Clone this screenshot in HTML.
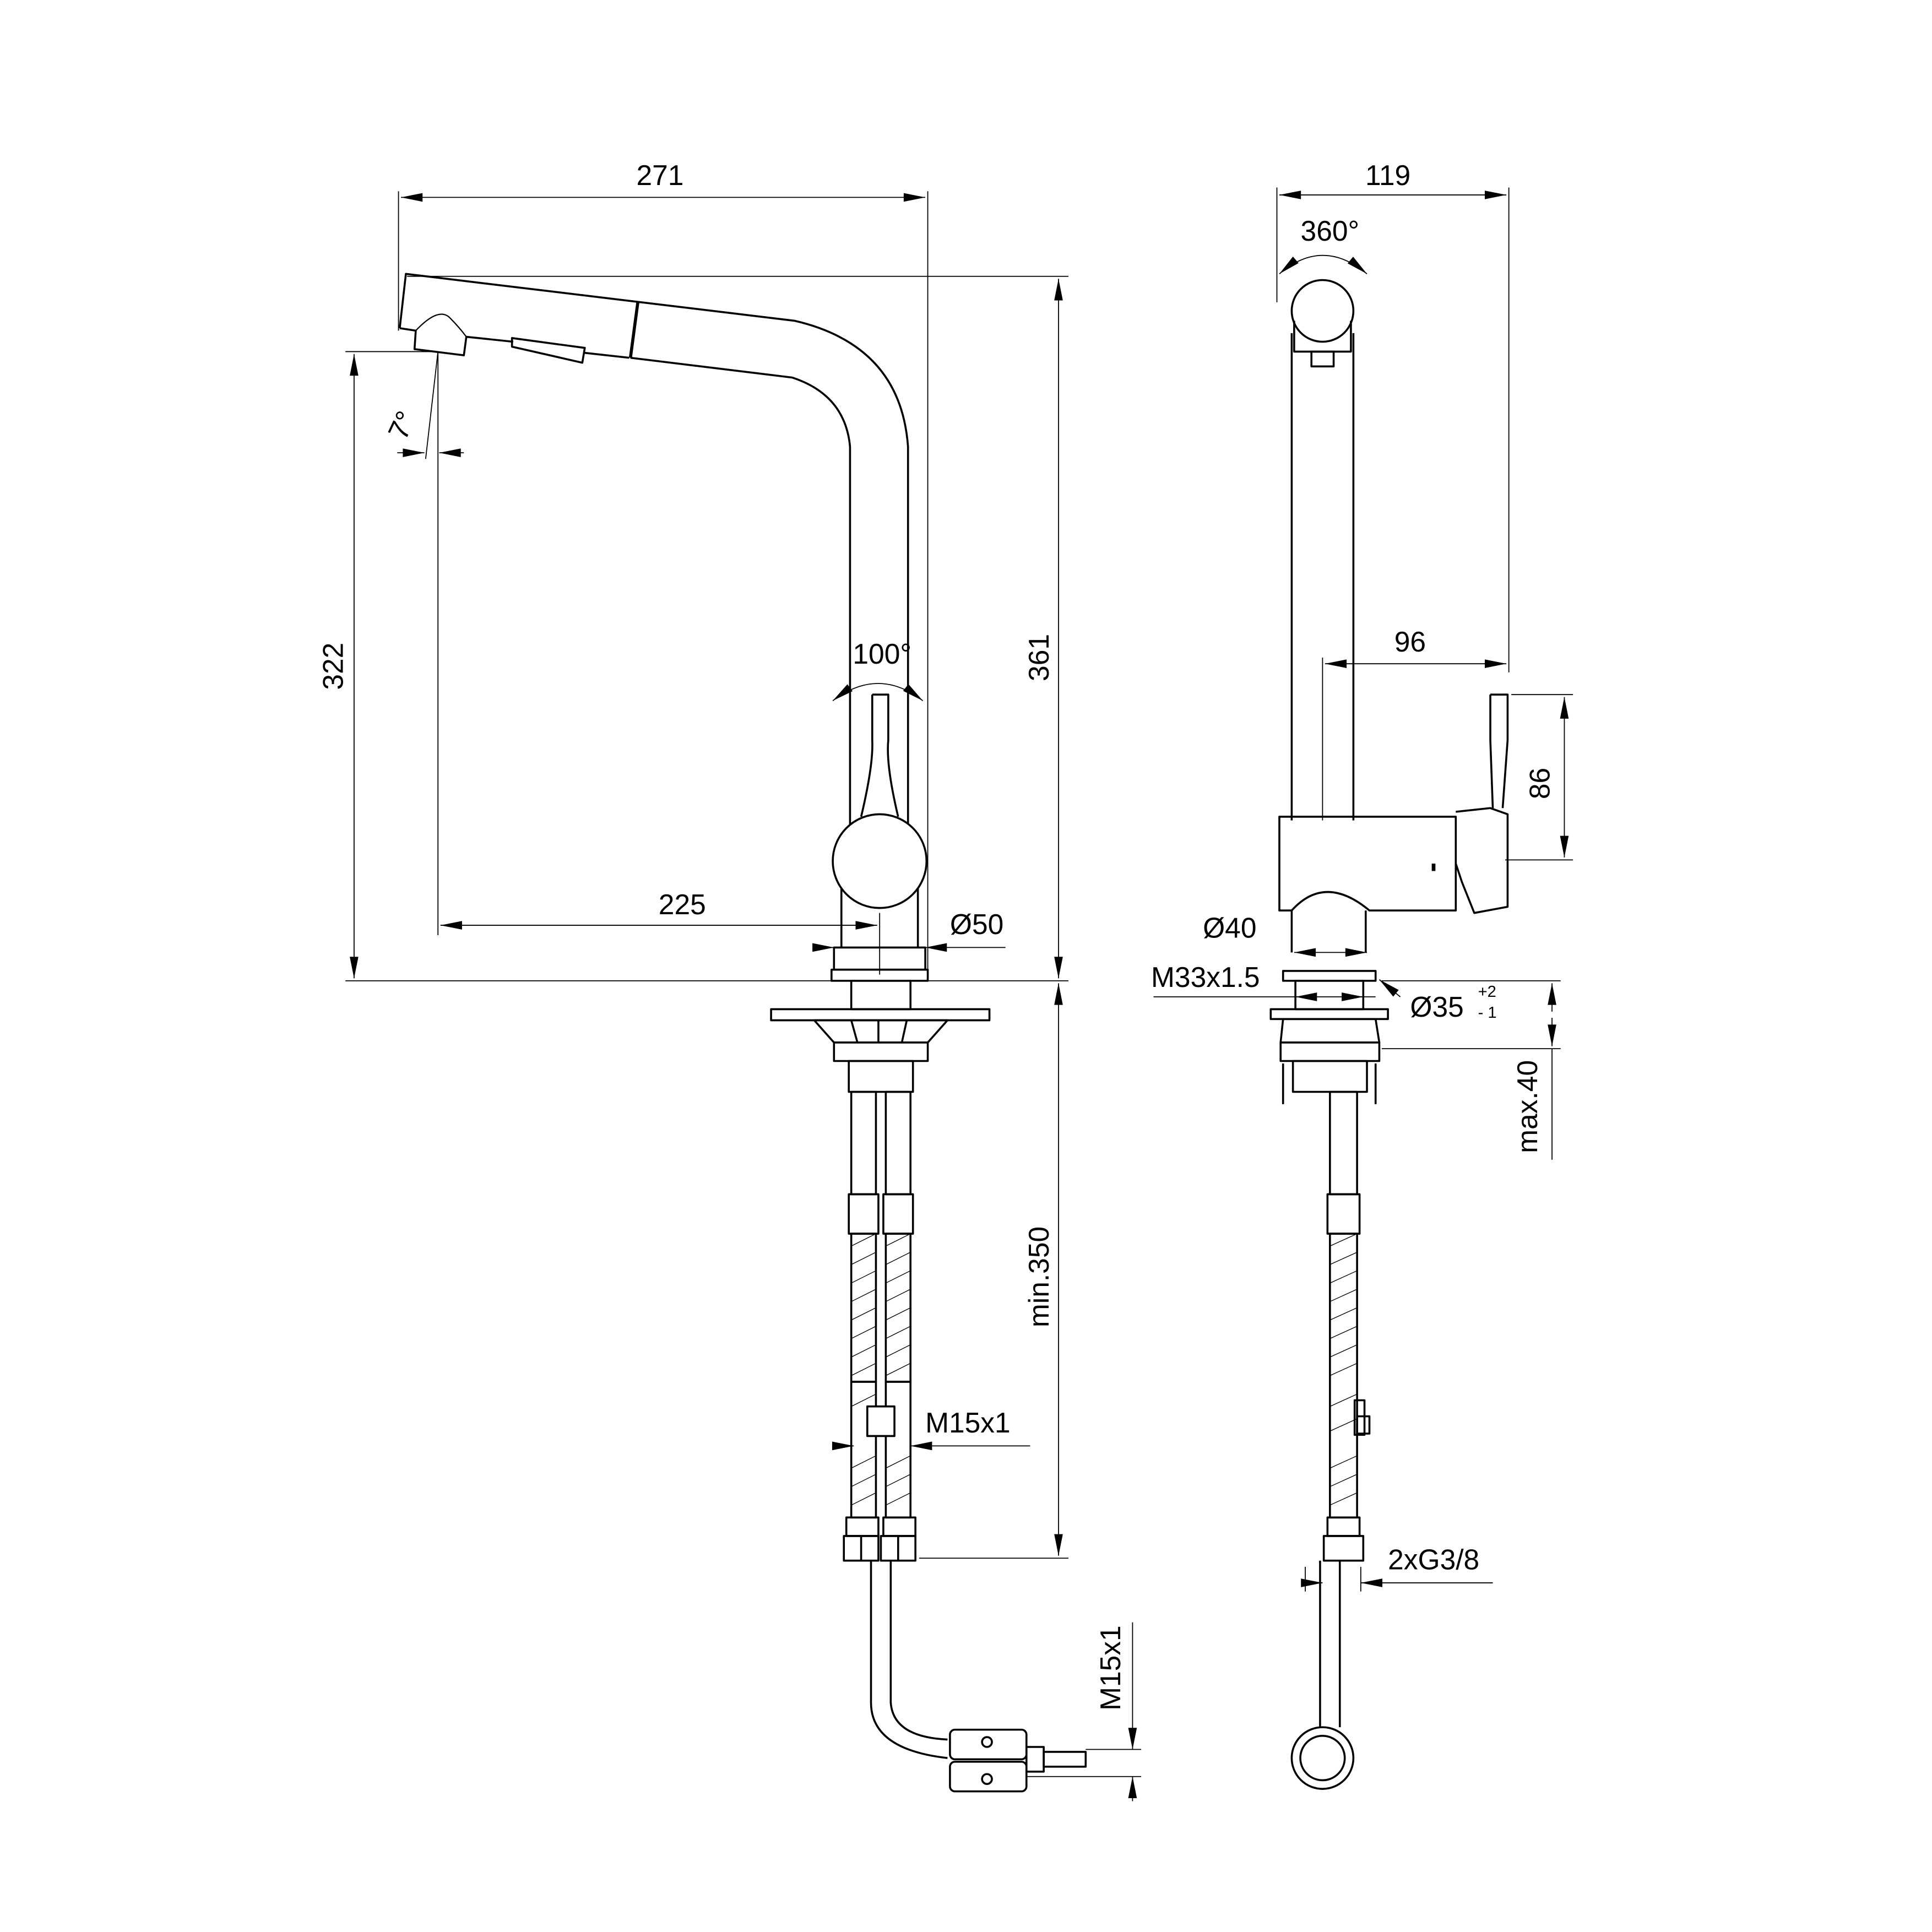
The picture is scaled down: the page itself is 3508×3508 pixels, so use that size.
<!DOCTYPE html>
<html><head><meta charset="utf-8"><style>
html,body{margin:0;padding:0;background:#fff}
svg{display:block}
text{font-family:"Liberation Sans",sans-serif;font-size:23px;fill:#000}
</style></head><body>
<svg width="3508" height="3508" viewBox="0 0 1566 1566" xmlns="http://www.w3.org/2000/svg">
<defs>
<marker id="a" viewBox="0 0 10 4" refX="10" refY="2" markerWidth="18" markerHeight="7" markerUnits="userSpaceOnUse" orient="auto-start-reverse"><path d="M0,0L10,2L0,4z" fill="#000"/></marker>
</defs>
<rect width="1566" height="1566" fill="#fff"/>
<g stroke="#000" stroke-width="0.8" fill="none">
<line x1="323" y1="155" x2="323" y2="268"/>
<line x1="752" y1="155" x2="752" y2="795"/>
<line x1="325" y1="160" x2="750" y2="160" marker-start="url(#a)" marker-end="url(#a)"/>
<line x1="330" y1="224" x2="866" y2="224"/>
<line x1="280" y1="285" x2="355" y2="285"/>
<line x1="280" y1="795" x2="866" y2="795"/>
<line x1="287" y1="287" x2="287" y2="793" marker-start="url(#a)" marker-end="url(#a)"/>
<line x1="858" y1="226" x2="858" y2="793" marker-start="url(#a)" marker-end="url(#a)"/>
<line x1="858" y1="797" x2="858" y2="1261" marker-start="url(#a)" marker-end="url(#a)"/>
<line x1="745" y1="1263" x2="866" y2="1263"/>
<line x1="355" y1="285" x2="355" y2="758"/>
<line x1="357" y1="750" x2="711" y2="750" marker-start="url(#a)" marker-end="url(#a)"/>
<line x1="713" y1="740" x2="713" y2="790"/>
<line x1="660" y1="768" x2="676" y2="768" marker-end="url(#a)"/>
<line x1="815" y1="768" x2="750" y2="768" marker-end="url(#a)"/>
<line x1="676" y1="768" x2="750" y2="768"/>
<line x1="355" y1="285" x2="345" y2="372"/>
<line x1="322" y1="367" x2="344" y2="367" marker-end="url(#a)"/>
<line x1="376" y1="367" x2="356" y2="367" marker-end="url(#a)"/>
<path d="M675,568 Q712,540 748,568" marker-start="url(#a)" marker-end="url(#a)"/>
<line x1="680" y1="1172" x2="692" y2="1172" marker-end="url(#a)"/>
<line x1="835" y1="1172" x2="738" y2="1172" marker-end="url(#a)"/>
<line x1="918" y1="1315" x2="918" y2="1418" marker-end="url(#a)"/>
<line x1="918" y1="1460" x2="918" y2="1440" marker-end="url(#a)"/>
<line x1="880" y1="1418" x2="925" y2="1418"/>
<line x1="832" y1="1440" x2="925" y2="1440"/>
<line x1="1035" y1="152" x2="1035" y2="245"/>
<line x1="1223" y1="152" x2="1223" y2="545"/>
<line x1="1037" y1="158" x2="1221" y2="158" marker-start="url(#a)" marker-end="url(#a)"/>
<path d="M1037,222 Q1072,192 1108,222" marker-start="url(#a)" marker-end="url(#a)"/>
<line x1="1072" y1="533" x2="1072" y2="665"/>
<line x1="1074" y1="538" x2="1221" y2="538" marker-start="url(#a)" marker-end="url(#a)"/>
<line x1="1225" y1="563" x2="1275" y2="563"/>
<line x1="1220" y1="697" x2="1275" y2="697"/>
<line x1="1268" y1="565" x2="1268" y2="695" marker-start="url(#a)" marker-end="url(#a)"/>
<line x1="1049" y1="772" x2="1108" y2="772" marker-start="url(#a)" marker-end="url(#a)"/>
<line x1="935" y1="808" x2="1115" y2="808"/>
<line x1="1050" y1="808" x2="1060" y2="808" marker-start="url(#a)"/>
<line x1="1105" y1="808" x2="1095" y2="808" marker-start="url(#a)"/>
<line x1="1135" y1="808" x2="1118" y2="794" marker-end="url(#a)"/>
<line x1="1120" y1="795" x2="1265" y2="795"/>
<line x1="1120" y1="850" x2="1265" y2="850"/>
<line x1="1258" y1="820" x2="1258" y2="797" marker-end="url(#a)"/>
<line x1="1258" y1="825" x2="1258" y2="848" marker-end="url(#a)"/>
<line x1="1258" y1="850" x2="1258" y2="940"/>
<line x1="1058" y1="1283" x2="1072" y2="1283" marker-end="url(#a)"/>
<line x1="1210" y1="1283" x2="1103" y2="1283" marker-end="url(#a)"/>
<line x1="1058" y1="1270" x2="1058" y2="1290"/>
<line x1="1103" y1="1270" x2="1103" y2="1290"/>
</g>
<g stroke="#000" stroke-width="1.6" fill="none" stroke-linejoin="round">
<path d="M324,266 L329,222 L644,260 Q730,280 736,362 L736,668"/>
<path d="M324,266 L337,268 L336,283 L376,288 L378,273 L416,277"/>
<path d="M337,268 Q356,248 365,258 Q372,265 378,273" stroke-width="1"/>
<path d="M415,274 L474,282 L472,294 L415,281 Z"/>
<line x1="474" y1="286" x2="510" y2="290"/>
<line x1="517" y1="245" x2="511" y2="290" stroke-width="2.5"/>
<path d="M511,290 L642,306 Q685,320 689,362 L689,668"/>
<circle cx="713" cy="698" r="38"/>
<path d="M707,563 L720,563 L720,600 Q718,620 728,662 M707,563 L707,600 Q708,620 698,662"/>
<path d="M682,720 L682,768 M744,720 L744,768"/>
<rect x="676" y="768" width="74" height="18"/>
<rect x="674" y="786" width="78" height="9"/>
<rect x="690" y="795" width="48" height="23"/>
<path d="M625,818 L802,818 L802,827 L625,827 Z"/>
<path d="M660,827 L768,827 L752,845 L676,845 Z"/>
<path d="M690,827 L695,845 M712,827 L712,845 M735,827 L731,845"/>
<rect x="676" y="845" width="76" height="15"/>
<rect x="688" y="860" width="52" height="25"/>
<rect x="690" y="885" width="20" height="83"/>
<rect x="718" y="885" width="20" height="83"/>
<rect x="688" y="968" width="24" height="32"/>
<rect x="716" y="968" width="24" height="32"/>
<rect x="690" y="1000" width="20" height="120"/>
<rect x="718" y="1000" width="20" height="120"/>
<rect x="690" y="1120" width="20" height="110"/>
<rect x="718" y="1120" width="20" height="110"/>
<rect x="703" y="1140" width="22" height="24" fill="#fff"/>
<rect x="686" y="1230" width="26" height="15"/>
<rect x="716" y="1230" width="26" height="15"/>
<path d="M684,1245 L712,1245 L712,1265 L684,1265 Z M714,1245 L742,1245 L742,1265 L714,1265 Z M698,1245 L698,1265 M728,1245 L728,1265"/>
<path d="M706,1265 L706,1380 Q706,1418 768,1425 M722,1265 L722,1380 Q724,1408 768,1410"/>
<rect x="770" y="1402" width="62" height="24" rx="4"/>
<rect x="770" y="1428" width="62" height="24" rx="4"/>
<circle cx="800" cy="1412" r="4"/><circle cx="800" cy="1442" r="4"/>
<rect x="832" y="1416" width="14" height="20"/>
<rect x="846" y="1420" width="34" height="12"/>
<circle cx="1072" cy="252" r="25"/>
<path d="M1049,260 L1049,285 L1095,285 L1095,260"/>
<rect x="1063" y="285" width="18" height="12"/>
<path d="M1047,270 L1047,665 M1097,270 L1097,665"/>
<path d="M1037,662 L1180,662 L1180,738 L1110,738 Q1074,708 1047,738 L1037,738 Z"/>
<path d="M1047,738 L1047,772 M1107,738 L1107,772"/>
<path d="M1180,658 L1208,655 L1222,660 L1222,735 L1195,740 L1185,715 L1180,700"/>
<path d="M1208,563 L1222,563 L1222,600 L1218,655 M1208,563 L1208,600 L1210,655"/>
<line x1="1162" y1="700" x2="1162" y2="706" stroke-width="3"/>
<rect x="1040" y="787" width="75" height="8"/>
<rect x="1050" y="795" width="55" height="23"/>
<rect x="1030" y="818" width="95" height="8"/>
<path d="M1040,826 L1115,826 L1118,845 L1038,845 Z"/>
<rect x="1038" y="845" width="80" height="15"/>
<rect x="1048" y="860" width="60" height="25"/>
<path d="M1040,862 L1040,895 M1115,862 L1115,895"/>
<rect x="1078" y="885" width="22" height="83"/>
<rect x="1076" y="968" width="26" height="32"/>
<rect x="1078" y="1000" width="22" height="230"/>
<rect x="1098" y="1135" width="8" height="28"/>
<rect x="1100" y="1148" width="10" height="14"/>
<rect x="1076" y="1230" width="26" height="15"/>
<rect x="1073" y="1245" width="32" height="20"/>
<path d="M1070,1265 L1070,1400 M1086,1265 L1086,1400"/>
<circle cx="1072" cy="1425" r="25"/>
<circle cx="1072" cy="1425" r="18"/>
</g>
<g stroke="#000" stroke-width="0.6">
<path d="M690,1010 L710,1000 M690,1025 L710,1015 M690,1040 L710,1030 M690,1055 L710,1045 M690,1070 L710,1060 M690,1085 L710,1075 M690,1100 L710,1090 M690,1115 L710,1105 M690,1140 L710,1130 M690,1190 L710,1180 M690,1205 L710,1195 M690,1220 L710,1210"/>
<path d="M718,1010 L738,1000 M718,1025 L738,1015 M718,1040 L738,1030 M718,1055 L738,1045 M718,1070 L738,1060 M718,1085 L738,1075 M718,1100 L738,1090 M718,1115 L738,1105 M718,1190 L738,1180 M718,1205 L738,1195 M718,1220 L738,1210"/>
<path d="M1078,1010 L1100,1000 M1078,1025 L1100,1015 M1078,1040 L1100,1030 M1078,1055 L1100,1045 M1078,1070 L1100,1060 M1078,1085 L1100,1075 M1078,1100 L1100,1090 M1078,1115 L1100,1105 M1078,1140 L1100,1130 M1078,1160 L1100,1150 M1078,1190 L1100,1180 M1078,1205 L1100,1195 M1078,1220 L1100,1210"/>
</g>
<text x="535" y="150" text-anchor="middle">271</text>
<text x="1125" y="150" text-anchor="middle">119</text>
<text x="1078" y="195" text-anchor="middle">360°</text>
<text x="715" y="538" text-anchor="middle">100°</text>
<text x="553" y="741" text-anchor="middle">225</text>
<text x="770" y="757">Ø50</text>
<text x="1143" y="528" text-anchor="middle">96</text>
<text x="975" y="760">Ø40</text>
<text x="933" y="800">M33x1.5</text>
<text x="1143" y="824">Ø35</text>
<text x="1198" y="808" style="font-size:13px">+2</text>
<text x="1198" y="825" style="font-size:13px">- 1</text>
<text x="750" y="1161">M15x1</text>
<text x="1125" y="1272">2xG3/8</text>
<text transform="translate(278,540) rotate(-90)" text-anchor="middle">322</text>
<text transform="translate(850,533) rotate(-90)" text-anchor="middle">361</text>
<text transform="translate(850,1035) rotate(-90)" text-anchor="middle">min.350</text>
<text transform="translate(1256,635) rotate(-90)" text-anchor="middle">86</text>
<text transform="translate(1246,897) rotate(-90)" text-anchor="middle">max.40</text>
<text transform="translate(908,1352) rotate(-90)" text-anchor="middle">M15x1</text>
<text transform="translate(333,348) rotate(-65)" text-anchor="middle">7°</text>
</svg>
</body></html>
